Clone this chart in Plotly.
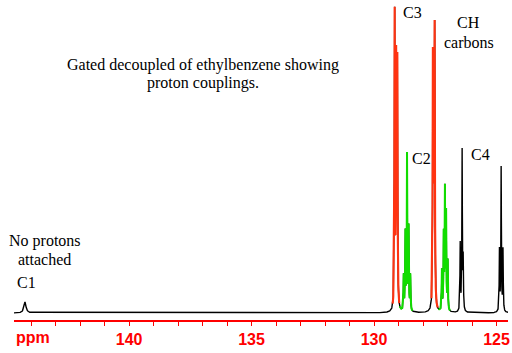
import numpy as np
import plotly.graph_objects as go

# ---- data: line lists (ppm, peak height in px-like intensity units) ----
c1_ppm = [144.25]
c1_h = [11]
c1_hw = 0.05

c3_ppm = [129.158, 129.097, 129.048, 127.597, 127.556, 127.524]
c3_h = [308, 268, 262, 266, 266, 293]

c2_ppm = [128.79, 128.72, 128.652, 128.586, 128.517,
          127.229, 127.155, 127.106, 127.057, 126.992]
c2_h = [40, 85, 162, 90, 40,
        45, 85, 130, 105, 55]

c4_ppm = [126.481, 126.404, 126.359, 124.879, 124.81, 124.734]
c4_h = [72, 166, 62, 66, 147, 66]

line_hw = 0.012

# coloured regions of the trace (ppm from, ppm to)
red_ranges = [(129.24, 128.97), (127.66, 127.40)]
green_ranges = [(128.95, 128.43), (127.37, 126.90)]

tick_major = [140, 135, 130, 125]

# ---- build spectrum ----
ppm = np.arange(124.45, 144.75, 0.003)


def lorentz(x, x0, h, hw):
    return h / (1.0 + ((x - x0) / hw) ** 2)


# solve for line amplitudes so that the summed spectrum reaches the
# read peak heights at each line position
lines_p = np.array(c3_ppm + c2_ppm + c4_ppm)
lines_h = np.array(c3_h + c2_h + c4_h, dtype=float)
L = 1.0 / (1.0 + ((lines_p[:, None] - lines_p[None, :]) / line_hw) ** 2)
amps = np.linalg.solve(L, lines_h)

spec = np.zeros_like(ppm)
for p, h in zip(c1_ppm, c1_h):
    spec += lorentz(ppm, p, h, c1_hw)
for p, a in zip(lines_p, amps):
    spec += lorentz(ppm, p, a, line_hw)

fig = go.Figure()
fig.add_trace(go.Scatter(x=ppm, y=spec, mode="lines",
                         line=dict(color="black", width=1.4),
                         hoverinfo="skip", showlegend=False))


def add_segment(lo_hi, color, width):
    a, b = lo_hi
    m = (ppm <= max(a, b)) & (ppm >= min(a, b))
    fig.add_trace(go.Scatter(x=ppm[m], y=spec[m], mode="lines",
                             line=dict(color=color, width=width),
                             hoverinfo="skip", showlegend=False))


for r in red_ranges:
    add_segment(r, "#ff3311", 2.1)
for g in green_ranges:
    add_segment(g, "#11dd00", 2.0)

serif = "Liberation Serif"
sans = "Liberation Sans"

ann = [
    ("Gated decoupled of ethylbenzene showing", 137.0, 248),
    ("proton couplings.", 137.0, 230),
    ("C3", 128.435, 301),
    ("CH", 126.126, 291),
    ("carbons", 126.126, 271),
    ("C2", 128.067, 155),
    ("C4", 125.636, 159),
    ("No protons", 143.433, 72),
    ("attached", 143.47, 54),
    ("C1", 144.21, 31),
]
for t, x, y in ann:
    fig.add_annotation(x=x, y=y, text=t, showarrow=False, xref="x", yref="y",
                       font=dict(family=serif, size=16, color="black"),
                       xanchor="center", yanchor="middle")

fig.add_annotation(x=143.94, y=-0.056, text="ppm", showarrow=False,
                   xref="x", yref="paper", xanchor="center", yanchor="middle",
                   font=dict(family=sans, size=16, color="#ff0000",
                             weight="bold"))

fig.update_layout(
    width=512, height=353,
    margin=dict(l=14, r=4, t=0, b=33),
    paper_bgcolor="white", plot_bgcolor="white",
    xaxis=dict(range=[144.70, 124.53], showgrid=False, zeroline=False,
               showline=True, linecolor="#ff0000", linewidth=2,
               ticks="outside", ticklen=4, tickcolor="#ff0000", tickwidth=1,
               tickvals=tick_major, ticktext=[str(v) for v in tick_major],
               tickfont=dict(family=sans, size=16, color="#ff0000",
                             weight="bold"),
               minor=dict(dtick=1, ticks="outside", ticklen=4,
                          tickcolor="#ff0000", tickwidth=1, showgrid=False)),
    yaxis=dict(range=[-7, 313], visible=False, showgrid=False, zeroline=False),
)

fig.write_html("out.html")
